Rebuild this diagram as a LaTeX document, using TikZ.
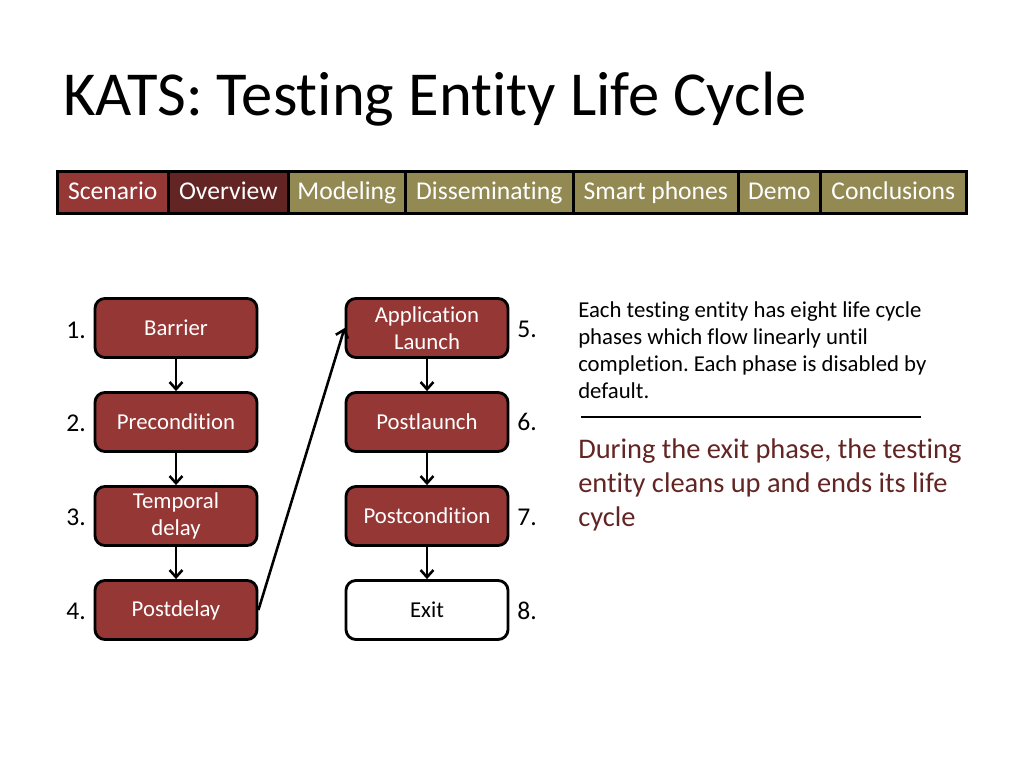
\documentclass[tikz,border=0pt]{standalone}
\usepackage{fontspec}
\setmainfont{Carlito}[Ligatures=NoCommon]
\usetikzlibrary{arrows.meta}
\definecolor{boxred}{HTML}{953735}
\definecolor{darkred}{HTML}{632523}
\definecolor{olive}{HTML}{938953}
\tikzset{
  tab/.style={draw=black, line width=1.8pt, minimum height=42*0.703125pt, inner sep=0pt, text=white, font=\fontsize{18}{21}\selectfont, text height=13.4pt, text depth=2.6pt, anchor=north west},
  phase/.style={draw=black, line width=2pt, rounded corners=7pt, fill=boxred, text=white, minimum width=162*0.703125pt, minimum height=59*0.703125pt, align=center, font=\fontsize{16}{19}\selectfont, inner sep=0pt},
  num/.style={font=\fontsize{18}{21}\selectfont, inner sep=0pt},
  flow/.style={-{Straight Barb[length=5pt,width=9pt]}, line width=1.8pt},
}
\begin{document}
\frenchspacing
\begin{tikzpicture}[x=0.703125pt, y=-0.703125pt]
\useasboundingbox (0,0) rectangle (1024,768);
% title
\node[anchor=base west, inner sep=0pt, font=\fontsize{44}{52}\selectfont] (title) at (63,116) {KATS: Testing Entity Life Cycle};
% tabs
\node[tab, fill=boxred, minimum width=111*0.703125pt] (t1) at (56,170) {Scenario};
\node[tab, fill=darkred, minimum width=120*0.703125pt] (t2) at (167,170) {Overview};
\node[tab, fill=olive, minimum width=117*0.703125pt] (t3) at (287,170) {Modeling};
\node[tab, fill=olive, minimum width=168*0.703125pt] (t4) at (404,170) {Disseminating};
\node[tab, fill=olive, minimum width=165*0.703125pt] (t5) at (572,170) {Smart phones};
\node[tab, fill=olive, minimum width=82*0.703125pt] (t6) at (737,170) {Demo};
\node[tab, fill=olive, minimum width=146*0.703125pt] (t7) at (819,170) {Conclusions};
% phases
\node[phase] (b1) at (176,328) {Barrier};
\node[phase] (b2) at (176,422) {Precondition};
\node[phase] (b3) at (176,516) {Temporal\\delay};
\node[phase] (b4) at (176,610) {Postdelay};
\node[phase] (b5) at (427,328) {Application\\Launch};
\node[phase] (b6) at (427,422) {Postlaunch};
\node[phase] (b7) at (427,516) {Postcondition};
\node[phase, fill=white, text=black] (b8) at (427,610) {Exit};
% numbers
\node[num, anchor=east] (n1) at (86,330) {1.};
\node[num, anchor=east] (n2) at (86,423) {2.};
\node[num, anchor=east] (n3) at (86,517) {3.};
\node[num, anchor=east] (n4) at (86,611) {4.};
\node[num, anchor=west] (n5) at (517,329) {5.};
\node[num, anchor=west] (n6) at (517,422) {6.};
\node[num, anchor=west] (n7) at (517,517) {7.};
\node[num, anchor=west] (n8) at (517,611) {8.};
% arrows
\draw[flow] (b1) -- (b2);
\draw[flow] (b2) -- (b3);
\draw[flow] (b3) -- (b4);
\draw[flow] (b4.east) -- (b5.west);
\draw[flow] (b5) -- (b6);
\draw[flow] (b6) -- (b7);
\draw[flow] (b7) -- (b8);
% text
\node[anchor=north west, align=left, inner sep=0pt, font=\fontsize{16}{19}\selectfont] (desc) at (578,301) {Each testing entity has eight life cycle\\phases which flow linearly until\\completion. Each phase is disabled by\\default.};
\coordinate (l1) at (581,417);
\coordinate (l2) at (921,417);
\draw[line width=1.5pt] (l1) -- (l2);
\node[anchor=north west, align=left, inner sep=0pt, text=darkred, font=\fontsize{20}{24}\selectfont] (exit) at (578,438) {During the exit phase, the testing\\entity cleans up and ends its life\\cycle};
\end{tikzpicture}
\end{document}
